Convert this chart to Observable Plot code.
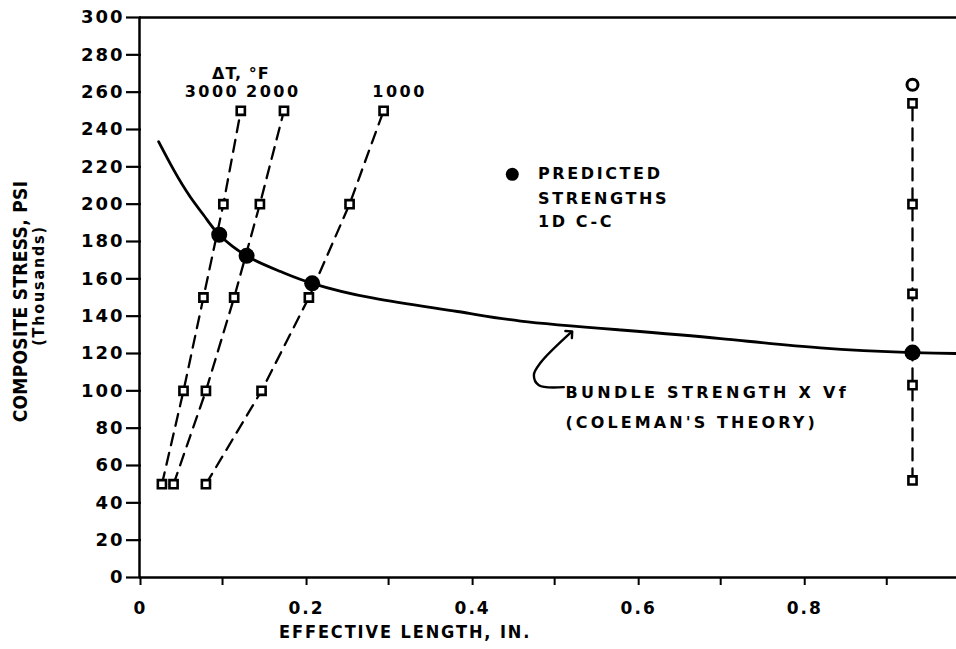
<!DOCTYPE html>
<html>
<head>
<meta charset="utf-8">
<script src="https://cdn.jsdelivr.net/npm/d3@7"></script>
<script src="https://cdn.jsdelivr.net/npm/@observablehq/plot@0.6"></script>
<style>
  html, body { margin: 0; padding: 0; background: #fff; }
  #chart svg { display: block; }
</style>
</head>
<body>
<div id="chart"></div>
<script>
// ---- data ----
const stressLevels = [50, 100, 150, 200, 250];
const len3000 = [0.027, 0.053, 0.077, 0.101, 0.122];
const len2000 = [0.041, 0.080, 0.114, 0.145, 0.174];
const len1000 = [0.080, 0.147, 0.204, 0.253, 0.294];
const deltaTLabels = ["3000", "2000", "1000"];
const deltaTLabelLen = [0.086, 0.160, 0.312];
const deltaTLabelStress = [260, 260, 260];

const rightLen = 0.931;
const rightStress = [52, 103, 152, 200, 254];
const rightOpenStress = [264];

const curveLen = [0.023, 0.041, 0.061, 0.0815, 0.096, 0.129, 0.170, 0.208, 0.282, 0.383, 0.459, 0.580, 0.700, 0.820, 0.931, 0.984];
const curveStress = [233.5, 218.5, 204, 191.6, 183.6, 172.3, 163.9, 157.6, 149.6, 142.5, 137.4, 132.6, 128, 123, 120.5, 120];

const predictedLen = [0.096, 0.129, 0.208, 0.931];
const predictedStress = [183.6, 172.3, 157.6, 120.5];

const arrowLen = [0.511, 0.481, 0.475, 0.483, 0.519];
const arrowStress = [102, 103, 108.5, 115, 131];

const yTicks = d3.range(0, 301, 20);
const xMajorTicks = [0, 0.2, 0.4, 0.6, 0.8];
const xMinorTicks = [0.1, 0.3, 0.5, 0.7, 0.9];

// ---- build tables ----
const squares = [];
[[len3000, "3000"], [len2000, "2000"], [len1000, "1000"]].forEach(([arr, s]) => {
  arr.forEach((x, i) => squares.push({series: s, x, y: stressLevels[i]}));
});
rightStress.forEach(y => squares.push({series: "right", x: rightLen, y}));
const curve = curveLen.map((x, i) => ({x, y: curveStress[i]}));
const predicted = predictedLen.map((x, i) => ({x, y: predictedStress[i]}));
const arrow = arrowLen.map((x, i) => ({x, y: arrowStress[i]}));
const dtLabels = deltaTLabels.map((t, i) => ({t, x: deltaTLabelLen[i], y: deltaTLabelStress[i]}));

const F = "'DejaVu Sans', sans-serif";
const FN = "'Liberation Sans Narrow', 'DejaVu Sans Condensed', sans-serif";

const chart = Plot.plot({
  width: 956,
  height: 649,
  marginLeft: 139,
  marginRight: 0,
  marginTop: 17,
  marginBottom: 72,
  style: {background: "#fff", color: "#000"},
  x: {domain: [0, 0.984]},
  y: {domain: [0, 300]},
  marks: [
    // frame lines
    Plot.ruleY([300], {stroke: "#000", strokeWidth: 2.5}),
    Plot.ruleY([0], {stroke: "#000", strokeWidth: 2.5}),
    Plot.ruleX([0], {stroke: "#000", strokeWidth: 2.5}),
    // axes
    Plot.axisY({ticks: yTicks, tickSize: 15, tickPadding: 2, dx: 2, strokeWidth: 2.2,
      fontSize: 18, fontWeight: "bold", fontFamily: F, label: null, tickFormat: d => String(d)}),
    Plot.axisX({ticks: xMajorTicks, tickSize: 8, tickPadding: 16, dx: 1, strokeWidth: 2,
      fontSize: 17, fontWeight: "bold", fontFamily: F, label: null,
      tickFormat: d => d === 0 ? "0" : d.toFixed(1)}),
    Plot.axisX({ticks: xMinorTicks, tickSize: 8, strokeWidth: 2, tickFormat: () => "", label: null}),
    // dashed lines
    Plot.line(squares, {x: "x", y: "y", z: "series", stroke: "#000", strokeWidth: 2.3,
      strokeDasharray: "12,8"}),
    // bundle strength curve
    Plot.line(curve, {x: "x", y: "y", curve: "natural", stroke: "#000", strokeWidth: 2.8}),
    // arrow pointer
    Plot.line(arrow, {x: "x", y: "y", curve: "catmull-rom", stroke: "#000", strokeWidth: 2.4, markerEnd: "arrow"}),
    // squares
    Plot.dot(squares, {x: "x", y: "y", symbol: "square", r: 4.6, fill: "#fff", stroke: "#000", strokeWidth: 2.6}),
    // open circle at top right
    Plot.dot(rightOpenStress, {x: () => rightLen, y: d => d, r: 5.5, fill: "#fff", stroke: "#000", strokeWidth: 3}),
    // predicted strengths
    Plot.dot(predicted, {x: "x", y: "y", r: 8, fill: "#000"}),
    // legend dot
    Plot.dot([{x: 0.449, y: 216}], {x: "x", y: "y", r: 6.5, fill: "#000"}),
    // annotations
    Plot.text(dtLabels, {x: "x", y: "y", text: "t", dx: 1, fontSize: 16, fontWeight: "bold", fontFamily: F}),
    Plot.text([{x: 0.122, y: 270, t: "ΔT, °F"}], {x: "x", y: "y", text: "t", fontSize: 16, fontWeight: "bold", fontFamily: F}),
    Plot.text([
      {x: 0.48, y: 216, t: "PREDICTED"},
      {x: 0.48, y: 203, t: "STRENGTHS"},
      {x: 0.48, y: 190.5, t: "1D C-C"}
    ], {x: "x", y: "y", text: "t", textAnchor: "start", fontSize: 16, fontWeight: "bold", fontFamily: F}),
    Plot.text([
      {x: 0.513, y: 99, t: "BUNDLE STRENGTH X Vf"},
      {x: 0.513, y: 83, t: "(COLEMAN'S THEORY)"}
    ], {x: "x", y: "y", text: "t", textAnchor: "start", fontSize: 16, fontWeight: "bold", fontFamily: F}),
    // axis titles
    Plot.text(["COMPOSITE STRESS, PSI"], {frameAnchor: "left", textAnchor: "middle", rotate: -90, dx: -119, dy: 4,
      fontSize: 19, fontWeight: "bold", fontFamily: FN}),
    Plot.text(["(Thousands)"], {frameAnchor: "left", textAnchor: "middle", rotate: -90, dx: -101, dy: -12,
      fontSize: 16, fontWeight: "bold", fontFamily: FN}),
    Plot.text(["EFFECTIVE LENGTH, IN."], {x: () => 0.32, y: () => 0, dy: 55,
      fontSize: 18, fontWeight: "bold", fontFamily: FN})
  ]
});
document.getElementById("chart").appendChild(chart);

// letter spacing to mimic the wide hand lettering
const spacing = new Map([
  ["PREDICTED", 2.6], ["STRENGTHS", 2.6], ["1D C-C", 2.6],
  ["BUNDLE STRENGTH X Vf", 3.3], ["(COLEMAN'S THEORY)", 3.1],
  ["3000", 2.5], ["2000", 2.5], ["1000", 2.5], ["ΔT, °F", 1],
  ["EFFECTIVE LENGTH, IN.", 1.9], ["(Thousands)", 1.8], ["COMPOSITE STRESS, PSI", 0.3]
]);
d3.select(chart).selectAll("text").each(function () {
  const t = this.textContent;
  if (spacing.has(t)) this.setAttribute("letter-spacing", spacing.get(t));
});
d3.select(chart).selectAll('g[aria-label="y-axis tick label"] text').attr("letter-spacing", 2);
d3.select(chart).selectAll('g[aria-label="x-axis tick label"] text').attr("letter-spacing", 2);
</script>
</body>
</html>
